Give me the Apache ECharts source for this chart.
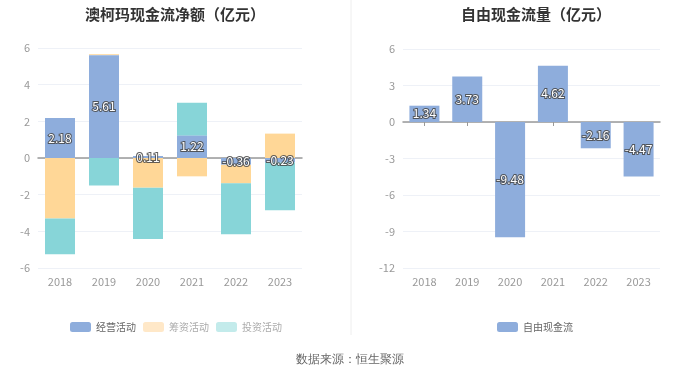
<!DOCTYPE html>
<html>
<head>
<meta charset="utf-8">
<script src="https://cdn.jsdelivr.net/npm/echarts@6/dist/echarts.min.js"></script>
<style>
  html, body { margin: 0; padding: 0; background: #fff; }
  #main { width: 700px; height: 377px; }
</style>
</head>
<body>
<div id="main"></div>
<script>
var years = ['2018', '2019', '2020', '2021', '2022', '2023'];
// 现金流净额 (亿元)
var operating = [2.18, 5.61, 0.11, 1.22, -0.36, -0.23];
var financing = [-3.30, 0.05, -1.62, -1.00, -1.02, 1.33];
var investing = [-1.95, -1.50, -2.80, 1.80, -2.78, -2.62];
// 自由现金流量 (亿元)
var freeCash = [1.34, 3.73, -9.48, 4.62, -2.16, -4.47];

var leftTicks = { min: -6, max: 6, interval: 2 };
var rightTicks = { min: -12, max: 6, interval: 3 };

var colors = {
    blue: '#8eaddc',
    yellow: '#ffd797',
    teal: '#87d5d8'
};

var labelStyle = {
    show: true,
    position: 'inside',
    color: '#fff',
    fontSize: 12,
    textBorderColor: 'rgba(70,70,70,0.85)',
    textBorderWidth: 2,
    formatter: function (p) { return p.value.toFixed(2); }
};

function makeYAxis(grid, t) {
    return {
        type: 'value',
        gridIndex: grid,
        min: t.min,
        max: t.max,
        interval: t.interval,
        axisLine: { show: false },
        axisTick: { show: false },
        axisLabel: { color: '#999', fontSize: 11, margin: 8 },
        splitLine: { lineStyle: { color: '#eef1f7', width: 1 } }
    };
}

function makeXAxes(grid) {
    return [{
        // zero line with ticks
        type: 'category',
        gridIndex: grid,
        data: years,
        axisLine: { onZero: true, lineStyle: { color: '#999', width: 1.5 } },
        axisTick: { show: true, alignWithLabel: true, length: 4, lineStyle: { color: '#999' } },
        axisLabel: { show: false }
    }, {
        // labels at the bottom
        type: 'category',
        gridIndex: grid,
        data: years,
        position: 'bottom',
        axisLine: { show: false, onZero: false },
        axisTick: { show: false },
        axisLabel: { color: '#999', fontSize: 11, margin: 8 }
    }];
}

var chart = echarts.init(document.getElementById('main'));
var option = {
    animation: false,
    textStyle: { fontFamily: '"Noto Sans CJK SC", "Noto Sans", sans-serif' },
    title: [{
        text: '澳柯玛现金流净额（亿元）',
        left: 170,
        textAlign: 'center',
        top: 2,
        textStyle: { fontSize: 15, fontWeight: 'bold', color: '#333' }
    }, {
        text: '自由现金流量（亿元）',
        left: 531,
        textAlign: 'center',
        top: 2,
        textStyle: { fontSize: 15, fontWeight: 'bold', color: '#333' }
    }],
    legend: [{
        left: 65,
        top: 317,
        itemWidth: 21,
        itemHeight: 10,
        itemGap: 7,
        icon: 'roundRect',
        selectedMode: false,
        textStyle: { fontSize: 10, color: '#666', padding: [0, 0, 0, 0] },
        data: [
            { name: '经营活动' },
            { name: '筹资活动', itemStyle: { color: '#ffe8c8' }, textStyle: { color: '#aaa' } },
            { name: '投资活动', itemStyle: { color: '#c3ebeb' }, textStyle: { color: '#aaa' } }
        ]
    }, {
        left: 492,
        top: 317,
        itemWidth: 21,
        itemHeight: 10,
        icon: 'roundRect',
        selectedMode: false,
        textStyle: { fontSize: 10, color: '#666' },
        data: ['自由现金流']
    }],
    grid: [
        { left: 38, right: 398, top: 48, bottom: 109 },
        { left: 403, right: 40, top: 49, bottom: 109 }
    ],
    xAxis: makeXAxes(0).concat(makeXAxes(1)),
    yAxis: [makeYAxis(0, leftTicks), makeYAxis(1, rightTicks)],
    graphic: [{
        type: 'line',
        shape: { x1: 351, y1: 0, x2: 351, y2: 335 },
        style: { stroke: '#eeeeee', lineWidth: 1 }
    }, {
        type: 'text',
        left: 'center',
        top: 354,
        style: { text: '数据来源：恒生聚源', fill: '#666', fontSize: 12 }
    }],
    series: [{
        name: '经营活动',
        type: 'bar',
        xAxisIndex: 0,
        yAxisIndex: 0,
        stack: 'cash',
        barWidth: 30,
        itemStyle: { color: colors.blue },
        label: labelStyle,
        z: 3,
        data: operating
    }, {
        name: '筹资活动',
        type: 'bar',
        xAxisIndex: 0,
        yAxisIndex: 0,
        stack: 'cash',
        barWidth: 30,
        itemStyle: { color: colors.yellow },
        data: financing
    }, {
        name: '投资活动',
        type: 'bar',
        xAxisIndex: 0,
        yAxisIndex: 0,
        stack: 'cash',
        barWidth: 30,
        itemStyle: { color: colors.teal },
        data: investing
    }, {
        name: '自由现金流',
        type: 'bar',
        xAxisIndex: 2,
        yAxisIndex: 1,
        barWidth: 30,
        itemStyle: { color: colors.blue },
        label: labelStyle,
        data: freeCash
    }]
};
chart.setOption(option);
window.addEventListener('resize', function () {
    chart.resize();
});
</script>
</body>
</html>
